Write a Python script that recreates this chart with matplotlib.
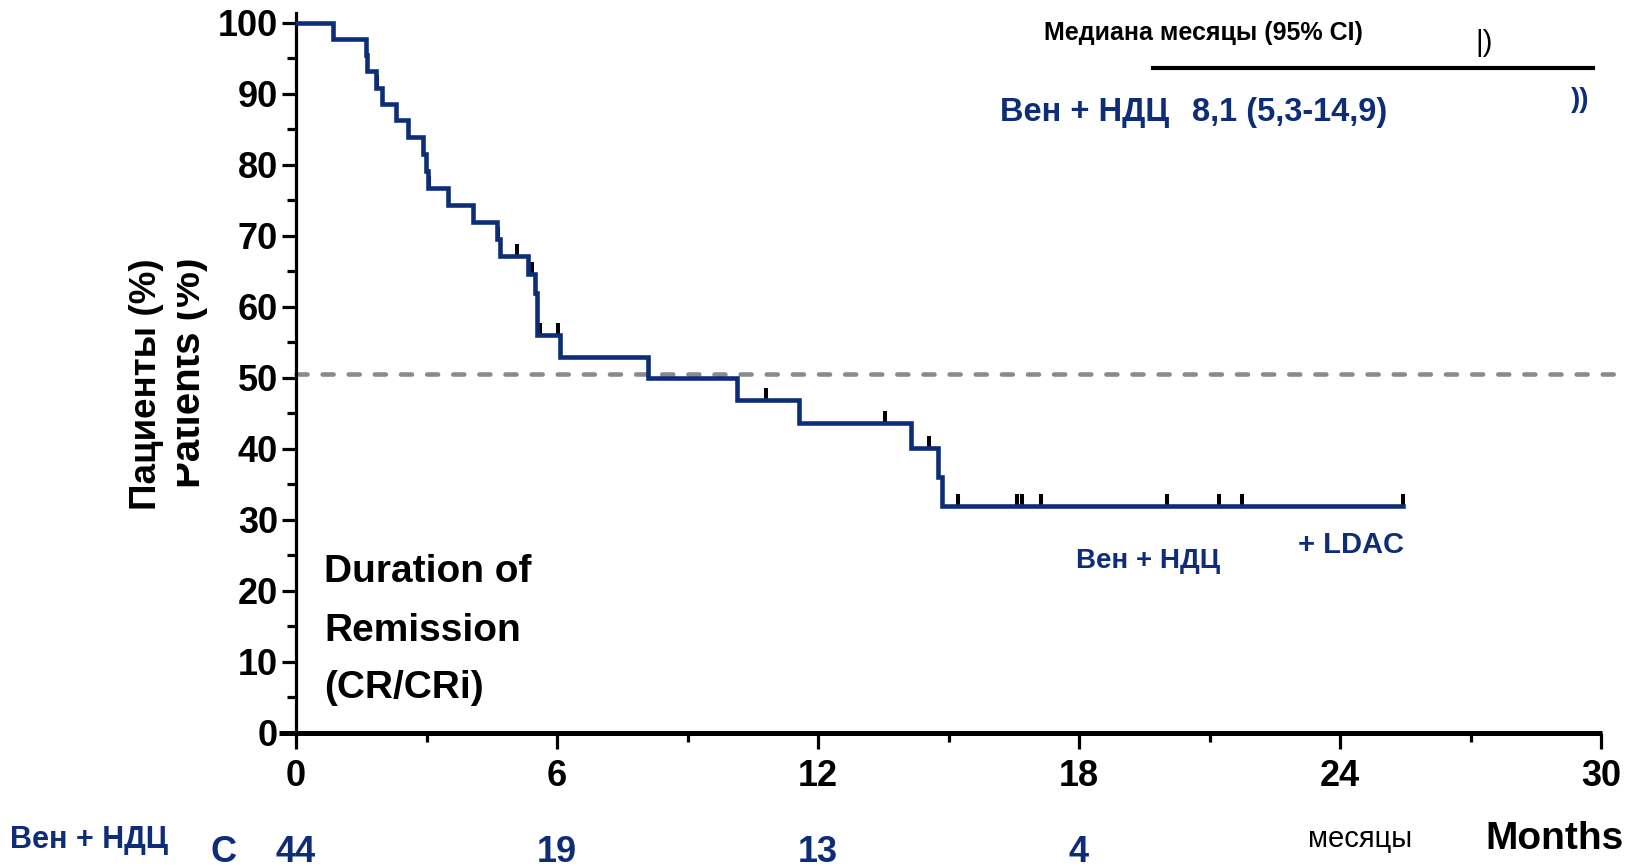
import numpy as np
import matplotlib
matplotlib.use("Agg")
import matplotlib.pyplot as plt
import matplotlib.transforms as mtransforms
from matplotlib.patches import Rectangle

plt.rcParams['font.family'] = ['Liberation Sans', 'DejaVu Sans']

# Kaplan-Meier steps (months, % in remission)
step_times = [0, 0.86, 1.61, 1.64, 1.85, 1.98, 2.31, 2.58, 2.93, 2.99, 3.03,
              3.49, 4.08, 4.62, 4.69, 5.34, 5.49, 5.55, 6.07, 8.10, 10.14,
              11.56, 14.13, 14.76, 14.84]
step_levels = [100, 97.7, 95.5, 93.2, 90.9, 88.6, 86.3, 84.0, 81.5, 79.1, 76.8,
               74.4, 72.0, 69.6, 67.2, 64.6, 62.0, 56.0, 53.0, 50.0, 46.9,
               43.6, 40.1, 36.0, 32.0]
last_time = 25.45
censor_times = [1.87, 3.05, 4.64, 5.07, 5.42, 5.61, 6.03, 10.80, 13.54, 14.56,
                15.22, 16.57, 16.68, 17.12, 20.03, 21.22, 21.74, 25.45]
median_line = 50.6

risk_times = [0, 6, 12, 18]
risk_counts = ['44', '19', '13', '4']

x_ticks = [0, 6, 12, 18, 24, 30]
y_ticks = list(range(0, 101, 10))

BLUE = '#0d2d78'
W, H = 1629, 868


def fx(px):
    return px / W


def fy(py):
    return 1 - py / H


fig = plt.figure(figsize=(W / 100, H / 100), dpi=100)
ax = fig.add_axes([fx(296), fy(733), (1601 - 296) / W, (733 - 13) / H])
ax.set_xlim(0, 30)
ax.set_ylim(0, 101.4)

# curve
t = np.array(step_times + [last_time])
s = np.array(step_levels + [step_levels[-1]])
ax.step(t, s, where='post', color=BLUE, lw=3.3, zorder=4, solid_joinstyle='miter')

# censor marks
ct = np.array(censor_times)
idx = np.searchsorted(np.array(step_times), ct, side='right') - 1
cs = np.array(step_levels)[idx]
ax.vlines(ct, cs, cs + 1.7, color='black', lw=2.9, zorder=3)

# median reference
ax.plot([0, 30.5], [median_line, median_line], color='#8a8a8a', lw=3.3,
        dashes=(2.4, 3.3), dash_capstyle='round', clip_on=False, zorder=2)

# axes styling
for sp in ['top', 'right', 'bottom']:
    ax.spines[sp].set_visible(False)
ax.spines['left'].set_linewidth(2.3)
ax.plot([-0.38, 30.03], [0, 0], color='black', lw=3.6, clip_on=False,
        solid_capstyle='butt', zorder=5)

ax.set_xticks(x_ticks)
ax.set_xticks([3, 9, 15, 21, 27], minor=True)
ax.set_yticks(y_ticks)
ax.set_yticks(list(range(5, 100, 10)), minor=True)
ax.tick_params(axis='x', which='major', length=11.5, width=2.3, pad=7,
               labelsize=26)
ax.tick_params(axis='x', which='minor', length=6.5, width=2.3)
ax.tick_params(axis='y', which='major', length=10, width=2.3, pad=3,
               labelsize=26)
ax.tick_params(axis='y', which='minor', length=6.5, width=2.3)
for lab in ax.get_xticklabels() + ax.get_yticklabels():
    lab.set_fontweight('bold')

# y-axis labels (overlapping translation, top of the old one hidden)
fig.text(fx(189), fy(373), 'Patients (%)', rotation=90, ha='center', va='center',
         fontsize=29, fontweight='bold', color='black', zorder=1)
fig.patches.append(Rectangle((fx(164), fy(500)), (177 - 164) / W, (500 - 245) / H,
                             transform=fig.transFigure, facecolor='white',
                             edgecolor='none', zorder=2))
fig.text(fx(146), fy(384), 'Пациенты (%)', rotation=90, ha='center', va='center',
         fontsize=26.5, fontweight='bold', color='black', zorder=3)

# inner label
for txt, yy in [('Duration of', 572), ('Remission', 631), ('(CR/CRi)', 688)]:
    fig.text(fx(324), fy(yy), txt, ha='left', va='center', fontsize=28,
             fontweight='bold', color='black')

# median table
fig.text(fx(1044), fy(33), 'Медиана месяцы (95% CI)', ha='left', va='center',
         fontsize=18, fontweight='bold', color='black')
fig.text(fx(1484), fy(43), '|)', ha='center', va='center', fontsize=21,
         color='black')
fig.add_artist(plt.Line2D([fx(1153), fx(1593)], [fy(67.5), fy(67.5)],
                          color='black', lw=3.0, transform=fig.transFigure))
fig.text(fx(1000), fy(112), 'Вен + НДЦ', ha='left', va='center', fontsize=23.5,
         fontweight='bold', color=BLUE)
fig.text(fx(1192), fy(112), '8,1 (5,3-14,9)', ha='left', va='center',
         fontsize=23.5, fontweight='bold', color=BLUE)
fig.text(fx(1580), fy(100), '))', ha='center', va='center', fontsize=20,
         fontweight='bold', color=BLUE)

# curve labels
fig.text(fx(1148), fy(561), 'Вен + НДЦ', ha='center', va='center', fontsize=20,
         fontweight='bold', color=BLUE)
fig.text(fx(1351), fy(545), '+ LDAC', ha='center', va='center', fontsize=21,
         fontweight='bold', color=BLUE)

# number at risk row
trans = mtransforms.blended_transform_factory(ax.transData, fig.transFigure)
for tt, n in zip(risk_times, risk_counts):
    ax.text(tt, fy(852), n, transform=trans, ha='center', va='center',
            fontsize=26, fontweight='bold', color=BLUE)
fig.text(fx(10), fy(840), 'Вен + НДЦ', ha='left', va='center', fontsize=22,
         fontweight='bold', color=BLUE)
fig.text(fx(223), fy(852), 'C', ha='center', va='center', fontsize=26,
         fontweight='bold', color=BLUE)
fig.text(fx(1360), fy(839), 'месяцы', ha='center', va='center', fontsize=21,
         color='black')
fig.text(fx(1555), fy(839), 'Months', ha='center', va='center', fontsize=28,
         fontweight='bold', color='black')

fig.savefig('out.png', dpi=100, facecolor='white')
